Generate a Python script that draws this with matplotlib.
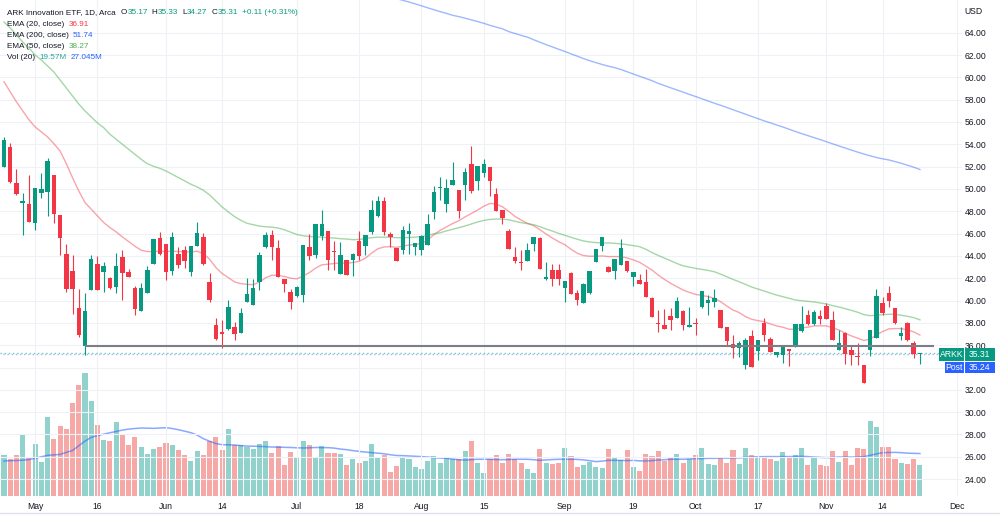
import matplotlib
matplotlib.use('Agg')
import matplotlib.pyplot as plt
import numpy as np
import pandas as pd
from matplotlib.patches import Rectangle
from matplotlib.lines import Line2D

# ---------------- data ----------------
opens = [52.0, 53.79, 50.57, 48.72, 48.63, 46.93, 49.67, 49.73, 51.22, 47.64,
         44.15, 42.66, 39.31, 35.94, 40.93, 43.25, 42.54, 42.06, 41.19, 43.91,
         42.6, 41.16, 39.10, 40.72, 43.28, 45.64, 45.07, 42.69, 44.15, 44.54,
         42.54, 44.9, 45.73, 41.70, 37.82, 37.19, 37.43, 37.67, 37.07, 39.91,
         39.64, 41.67, 44.79, 45.83, 44.73, 41.90, 40.77, 40.39, 40.54, 44.79,
         44.05, 45.74, 46.19, 44.43, 42.41, 43.60, 43.66, 45.30, 44.85, 46.13,
         47.62, 48.96, 45.98, 44.73, 44.55, 45.92, 44.79, 44.49, 45.0, 47.96,
         50.04, 48.64, 50.37, 49.89, 50.34, 52.27, 50.67, 51.47, 51.98, 49.54,
         48.11, 46.26, 43.94, 43.49, 43.58, 45.07, 45.61, 41.89, 42.75, 42.75,
         41.14, 42.45, 40.70, 39.77, 40.70, 43.43, 44.92, 43.05, 42.69, 43.2,
         43.56, 42.07, 41.86, 41.68, 40.2, 38.02, 37.82, 38.62, 38.41, 39.1,
         37.67, 38.02, 39.39, 39.75, 39.9, 39.15, 37.61, 36.09, 35.73, 34.18,
         36.83, 35.49, 38.02, 36.57, 35.08, 35.14, 35.67, 35.88, 37.28, 38.71,
         37.88, 38.62, 39.51, 38.26, 35.58, 37.07, 35.58, 35.05, 34.24, 35.58,
         36.63, 39.81, 40.7, 39.3, 36.83, 38.02, 36.18, 35.17]
highs = [54.66, 54.15, 51.82, 49.67, 51.25, 50.12, 51.40, 52.76, 51.25, 47.70,
         45.07, 44.06, 41.04, 40.66, 44.09, 43.99, 43.43, 42.10, 44.24, 44.54,
         42.80, 41.34, 41.55, 43.13, 45.49, 46.18, 45.10, 46.12, 44.84, 44.90,
         44.90, 47.07, 46.03, 42.45, 38.48, 38.27, 40.06, 38.06, 39.31, 42.00,
         41.96, 44.35, 46.13, 46.28, 45.39, 41.95, 41.07, 41.30, 45.00, 45.98,
         46.88, 48.13, 46.20, 45.30, 45.24, 43.62, 44.26, 46.19, 45.85, 49.05,
         49.35, 49.32, 46.13, 44.75, 46.64, 46.93, 45.20, 45.83, 47.77, 50.28,
         51.11, 50.87, 52.42, 49.90, 51.92, 53.85, 52.07, 52.66, 52.00, 50.04,
         48.12, 46.41, 44.83, 44.57, 45.13, 45.73, 45.73, 43.43, 43.23, 43.23,
         41.71, 42.60, 40.90, 41.56, 42.69, 44.63, 45.73, 43.07, 43.73, 45.52,
         43.58, 42.52, 42.39, 42.79, 40.35, 39.15, 39.21, 39.30, 40.35, 39.12,
         39.45, 38.47, 40.85, 40.49, 41.03, 39.17, 37.63, 36.92, 36.33, 36.63,
         37.37, 36.48, 38.41, 36.69, 35.38, 35.94, 35.69, 37.88, 39.51, 39.15,
         39.15, 39.15, 39.75, 39.07, 37.37, 37.22, 36.03, 36.18, 34.26, 37.37,
         41.00, 40.35, 41.30, 39.32, 37.67, 38.04, 36.33, 35.33]
lows = [51.95, 50.57, 49.46, 45.88, 47.00, 46.33, 49.22, 47.61, 46.99, 44.09,
        40.80, 38.81, 36.72, 35.13, 40.90, 40.90, 40.80, 41.05, 40.72, 40.06,
        42.10, 38.72, 39.05, 40.70, 43.25, 44.10, 41.85, 42.30, 42.90, 42.90,
        42.24, 44.85, 43.20, 39.90, 36.48, 35.73, 37.40, 36.48, 37.05, 39.90,
        39.60, 40.92, 44.75, 43.66, 42.10, 40.77, 39.20, 40.30, 39.88, 43.60,
        43.84, 45.39, 42.71, 42.77, 42.40, 42.30, 42.20, 43.66, 44.05, 45.98,
        47.47, 45.83, 44.79, 43.51, 44.14, 44.20, 44.05, 44.05, 44.98, 47.30,
        49.00, 47.96, 50.35, 47.39, 49.03, 49.68, 49.92, 51.11, 49.39, 47.99,
        46.86, 44.63, 43.35, 42.75, 43.56, 44.48, 42.84, 41.87, 41.26, 41.35,
        39.86, 40.55, 39.57, 39.75, 40.60, 43.41, 44.48, 42.54, 41.94, 43.20,
        42.60, 41.30, 41.44, 40.35, 38.56, 37.22, 37.43, 37.40, 38.41, 37.37,
        37.65, 36.92, 39.37, 38.70, 39.45, 37.52, 36.03, 34.84, 34.93, 33.86,
        34.04, 34.69, 36.33, 35.38, 34.90, 34.39, 34.10, 35.86, 37.22, 37.80,
        37.80, 37.90, 38.35, 36.48, 35.56, 34.33, 34.24, 34.18, 32.60, 34.99,
        36.61, 38.71, 39.39, 37.90, 36.48, 36.33, 34.84, 34.27]
closes = [54.39, 50.63, 49.52, 48.93, 47.07, 50.12, 49.97, 52.46, 47.73, 45.57,
          41.01, 41.01, 36.93, 39.07, 43.70, 40.96, 43.13, 41.10, 43.10, 42.45,
          42.15, 39.22, 41.10, 42.75, 45.49, 44.15, 42.54, 45.73, 43.19, 43.55,
          44.90, 46.09, 43.25, 40.06, 36.57, 37.00, 39.46, 37.01, 38.87, 40.60,
          41.16, 44.05, 45.83, 44.79, 42.11, 41.52, 39.88, 41.22, 45.00, 43.96,
          46.88, 46.88, 43.60, 44.32, 44.05, 42.32, 44.14, 43.96, 45.83, 48.15,
          48.96, 46.13, 45.68, 43.51, 46.34, 46.19, 45.18, 45.74, 46.88, 49.74,
          50.19, 50.04, 50.81, 47.99, 51.53, 49.83, 52.07, 52.21, 50.73, 47.99,
          47.39, 44.63, 43.58, 43.35, 44.54, 45.73, 42.84, 42.10, 41.95, 41.89,
          41.71, 40.55, 40.07, 41.44, 42.69, 44.63, 45.73, 42.54, 43.73, 44.68,
          42.67, 42.52, 41.44, 40.35, 38.56, 37.88, 37.43, 38.26, 39.99, 37.82,
          37.82, 37.88, 40.85, 40.05, 40.20, 37.52, 36.33, 35.73, 36.18, 36.48,
          34.04, 36.42, 36.92, 35.38, 35.35, 35.94, 35.44, 37.88, 37.91, 37.88,
          38.95, 38.35, 38.35, 36.48, 36.24, 35.23, 35.08, 34.90, 32.60, 37.37,
          40.41, 38.92, 39.99, 37.96, 37.13, 36.42, 35.23, 35.31]
volumes_m = [25.9, 23.4, 25.9, 38.6, 24.8, 33.1, 21.7, 50.5, 36.5, 44.6,
             42.9, 59.0, 70.7, 78.1, 60.7, 45.0, 35.7, 34.8, 47.1, 38.9,
             32.5, 37.4, 31.4, 26.8, 29.7, 31.0, 33.5, 32.3, 29.3, 26.1,
             22.3, 28.7, 25.9, 35.2, 37.4, 29.3, 42.5, 32.5, 32.5, 31.2,
             29.7, 33.1, 35.0, 27.2, 31.6, 19.9, 28.0, 24.4, 34.8, 32.3,
             24.4, 31.8, 27.4, 27.4, 27.0, 19.7, 23.8, 20.8, 22.3, 32.9,
             24.4, 26.1, 15.3, 19.1, 24.4, 23.4, 18.5, 17.4, 22.3, 25.5,
             21.2, 24.0, 23.4, 23.4, 28.7, 35.0, 20.8, 14.9, 23.8, 25.9,
             20.8, 26.5, 23.4, 20.8, 17.4, 14.9, 29.7, 21.2, 20.6, 21.2,
             30.8, 25.5, 18.5, 19.5, 21.7, 18.7, 18.0, 30.1, 24.4, 22.9,
             29.3, 18.6, 15.9, 26.5, 25.5, 28.7, 22.3, 24.4, 26.5, 21.0,
             23.4, 25.9, 30.8, 20.6, 19.7, 24.8, 21.0, 29.3, 20.2, 30.8,
             25.9, 24.4, 24.8, 23.8, 22.3, 28.0, 24.8, 25.9, 30.8, 19.7,
             24.4, 19.7, 18.9, 28.4, 21.9, 28.7, 19.7, 30.4, 29.7, 47.8,
             43.7, 31.4, 31.4, 23.8, 21.0, 20.4, 23.8, 19.57]
vol_ma_m = [22.3, 22.5, 22.6, 22.8, 23.2, 24.0, 25.0, 25.9, 26.2, 26.5,
            27.8, 29.0, 32.0, 35.0, 37.3, 38.5, 39.4, 40.3, 41.1, 42.0,
            42.6, 43.0, 43.3, 43.2, 43.1, 43.3, 43.5, 43.0, 42.2, 41.3,
            40.3, 38.8, 36.5, 34.9, 33.4, 32.7, 32.6, 32.5, 32.1, 31.8,
            31.7, 31.6, 31.4, 31.2, 31.1, 31.0, 30.9, 30.7, 30.6, 30.7,
            30.9, 30.8, 30.8, 30.5, 29.9, 29.5, 28.9, 28.4, 28.0, 27.6,
            27.3, 26.9, 26.3, 25.8, 25.7, 25.5, 25.3, 25.1, 24.8, 24.4,
            24.2, 24.0, 23.5, 23.1, 22.9, 23.1, 23.4, 23.4, 23.4, 23.2,
            23.1, 23.2, 23.4, 23.4, 23.4, 23.1, 22.7, 23.0, 23.2, 23.4,
            23.4, 23.4, 23.3, 23.0, 22.5, 21.9, 22.2, 22.7, 22.7, 22.7,
            22.5, 22.7, 22.4, 22.3, 22.5, 22.9, 23.1, 23.4, 23.4, 23.4,
            23.6, 23.8, 23.8, 24.0, 24.0, 24.2, 24.2, 24.2, 24.3, 24.6,
            24.8, 25.0, 25.1, 25.1, 25.1, 25.1, 25.1, 25.2, 25.3, 25.1,
            24.8, 24.6, 24.4, 24.5, 24.8, 24.8, 24.8, 24.8, 25.1, 25.9,
            26.8, 27.6, 27.7, 27.8, 27.6, 27.3, 27.2, 27.05]
ema20 = [59.6, 58.7, 57.8, 57.0, 56.2, 55.55, 55.1, 54.66, 54.06, 53.4,
         52.27, 51.0, 49.82, 48.78, 48.18, 47.58, 46.99, 46.54, 46.15, 45.70,
         45.28, 44.87, 44.51, 44.39, 44.39, 44.42, 44.39, 44.42, 44.39, 44.36,
         44.36, 44.42, 44.2, 43.7, 42.96, 42.42, 42.06, 41.67, 41.52, 41.45,
         41.42, 41.65, 42.04, 42.28, 42.25, 42.16, 42.0, 41.94, 42.2, 42.5,
         42.9, 43.2, 43.26, 43.31, 43.37, 43.34, 43.41, 43.52, 43.8, 44.25,
         44.64, 44.8, 44.84, 44.76, 44.88, 44.98, 45.02, 45.12, 45.43, 45.9,
         46.29, 46.6, 46.9, 47.15, 47.5, 47.8, 48.1, 48.45, 48.7, 48.65,
         48.4, 47.99, 47.54, 47.21, 46.92, 46.71, 46.35, 45.96, 45.6, 45.28,
         45.01, 44.6, 44.24, 44.03, 43.97, 43.97, 44.0, 43.94, 43.94, 43.94,
         43.82, 43.64, 43.43, 43.08, 42.73, 42.28, 41.89, 41.54, 41.24, 40.94,
         40.73, 40.55, 40.46, 40.35, 40.2, 39.9, 39.51, 39.15, 38.92, 38.56,
         38.32, 38.2, 38.11, 37.9, 37.73, 37.61, 37.43, 37.43, 37.55, 37.61,
         37.73, 37.73, 37.73, 37.55, 37.37, 37.07, 36.83, 36.63, 36.42, 36.54,
         36.92, 37.22, 37.46, 37.49, 37.49, 37.37, 37.19, 36.91]
ema50 = [64.96, 64.42, 63.79, 63.17, 62.63, 62.0, 61.55, 61.02, 60.48, 59.76,
         59.05, 58.33, 57.61, 56.99, 56.45, 55.91, 55.49, 54.9, 54.45, 54.0,
         53.55, 53.1, 52.66, 52.27, 52.03, 51.85, 51.61, 51.31, 51.01, 50.72,
         50.42, 50.18, 49.88, 49.46, 48.93, 48.39, 47.94, 47.52, 47.19, 46.92,
         46.79, 46.67, 46.61, 46.58, 46.49, 46.34, 46.13, 45.92, 45.8, 45.74,
         45.71, 45.68, 45.63, 45.6, 45.54, 45.51, 45.45, 45.48, 45.54, 45.63,
         45.68, 45.68, 45.68, 45.63, 45.63, 45.65, 45.68, 45.74, 45.83, 45.98,
         46.07, 46.24, 46.38, 46.53, 46.68, 46.86, 47.04, 47.18, 47.27, 47.3,
         47.3, 47.24, 47.1, 46.98, 46.89, 46.8, 46.62, 46.41, 46.23, 46.02,
         45.85, 45.67, 45.49, 45.34, 45.25, 45.19, 45.16, 45.16, 45.13, 45.07,
         45.01, 44.92, 44.83, 44.6, 44.3, 44.04, 43.8, 43.56, 43.32, 43.11,
         42.99, 42.88, 42.79, 42.7, 42.58, 42.37, 42.13, 41.89, 41.68, 41.45,
         41.21, 41.03, 40.85, 40.67, 40.49, 40.35, 40.2, 40.05, 39.99, 39.93,
         39.87, 39.78, 39.69, 39.54, 39.42, 39.27, 39.12, 38.95, 38.74, 38.65,
         38.68, 38.74, 38.77, 38.77, 38.68, 38.59, 38.47, 38.27]
# EMA 200 is only inside the visible price range for the last 86 sessions
ema200 = [67.2, 67.05, 66.9, 66.75, 66.58, 66.41, 66.23, 66.06,
          65.89, 65.73, 65.56, 65.44, 65.3, 65.15, 65.0, 64.84, 64.66, 64.5,
          64.35, 64.1, 63.93, 63.76, 63.6, 63.37, 63.15, 62.93, 62.73, 62.52,
          62.32, 62.1, 61.9, 61.68, 61.49, 61.32, 61.15, 61.0, 60.87, 60.7,
          60.5, 60.3, 60.1, 59.9, 59.7, 59.46, 59.26, 59.06, 58.87, 58.67,
          58.47, 58.28, 58.08, 57.88, 57.68, 57.5, 57.3, 57.1, 56.9, 56.7,
          56.5, 56.3, 56.1, 55.92, 55.73, 55.55, 55.35, 55.15, 54.96, 54.78,
          54.6, 54.42, 54.23, 54.04, 53.85, 53.67, 53.48, 53.3, 53.13, 52.97,
          52.82, 52.7, 52.6, 52.45, 52.3, 52.12, 51.95, 51.74]

first_session = '2022-04-25'
axis_end = '2022-12-01'
market_holidays = ['2022-05-30', '2022-06-20', '2022-07-04', '2022-09-05', '2022-11-24']
tick_dates = ['2022-05-02', '2022-05-16', '2022-06-01', '2022-06-14', '2022-07-01',
              '2022-07-18', '2022-08-01', '2022-08-15', '2022-09-01', '2022-09-19',
              '2022-10-03', '2022-10-17', '2022-11-01', '2022-11-14', '2022-12-01']
tick_labels = ['May', '16', 'Jun', '14', 'Jul', '18', 'Aug', '15', 'Sep', '19',
               'Oct', '17', 'Nov', '14', 'Dec']
price_ticks = list(range(24, 65, 2))
hidden_price_labels = [34]   # covered by the last-price tags in the reference
level_line = 35.94       # horizontal drawing from the May 12 session
level_start = '2022-05-12'
last_price = 35.31
post_price = 35.24

# ---------------- figure ----------------
W, H = 1000, 518
DARK = '#131722'
UP, DOWN = '#089981', '#f23645'
plt.rcParams['font.family'] = ['Liberation Sans', 'DejaVu Sans']

fig = plt.figure(figsize=(10, 5.18), dpi=100)
fig.patch.set_facecolor('white')

def fx(px):
    return px / W

def fy(py):
    return 1 - py / H

cal = pd.bdate_range(first_session, axis_end, freq='C', holidays=market_holidays)
n = len(closes)
pos = np.arange(n)
tick_pos = [cal.get_loc(pd.Timestamp(d)) for d in tick_dates]

plot_bottom_px = 496
ax_rect = [0, fy(plot_bottom_px), 0.962, plot_bottom_px / H]
ax = fig.add_axes(ax_rect)
axv = ax.twinx()
ax.set_zorder(axv.get_zorder() + 1)
ax.patch.set_visible(False)

xlim = (-0.642, 153.75)
ax.set_xlim(*xlim)
axv.set_xlim(*xlim)
ax.set_ylim(22.486, 66.930)
axv.set_ylim(0, plot_bottom_px * 0.637)

o = np.array(opens); h = np.array(highs); l = np.array(lows); c = np.array(closes)
up = c >= o
col = np.where(up, UP, DOWN)

# volume pane (overlay)
vcol = np.where(up, '#26a69a', '#ef5350')
axv.bar(pos, volumes_m, width=0.82, color=vcol, alpha=0.5, linewidth=0)
axv.plot(pos, vol_ma_m, color='#2962ff', alpha=0.55, lw=1.1)
axv.set_yticks([])
for s in axv.spines.values():
    s.set_visible(False)

# grid
ax.set_yticks(price_ticks)
ax.set_yticklabels(['' if p in hidden_price_labels else f'{p:.2f}' for p in price_ticks])
ax.set_xticks(tick_pos)
ax.set_xticklabels(tick_labels)
ax.grid(True, color='#eef1f6', lw=0.8)
ax.set_axisbelow(True)
ax.yaxis.tick_right()
ax.tick_params(axis='y', length=0, pad=1.8, labelsize=6.2, labelcolor=DARK)
ax.tick_params(axis='x', length=0, pad=4, labelsize=6.2, labelcolor=DARK)
for s in ax.spines.values():
    s.set_visible(False)

# EMAs
ax.plot(pos, ema20, color='#f23645', alpha=0.45, lw=1.0, zorder=4)
ax.plot(pos, ema50, color='#4caf50', alpha=0.5, lw=1.0, zorder=4)
ax.plot(pos[n - len(ema200):], ema200, color='#2962ff', alpha=0.45, lw=1.0, zorder=4)

# candles
body_lo = np.minimum(o, c)
body_h = np.maximum(np.abs(c - o), 0.07)
ax.vlines(pos, l, h, colors=col, lw=0.8, zorder=5)
ax.bar(pos, body_h, bottom=body_lo, width=0.72, color=col, linewidth=0, zorder=6)

# drawings / price lines
ax.hlines(level_line, cal.get_loc(pd.Timestamp(level_start)), n + 1.2,
          color='#7b7e87', lw=1.5, zorder=7)
ax.axhline(last_price, color=UP, lw=1.0, ls=(0, (1, 2)), alpha=0.55, zorder=3)
ax.axhline(post_price, color='#2962ff', lw=1.0, ls=(1, (1, 2)), alpha=0.45, zorder=3)

# price scale header and labels
fig.text(fx(964), fy(12), 'USD', fontsize=6.2, color=DARK, va='center', ha='left')

def tag(x0, x1, y0, y1, color, left_txt, right_txt, split):
    fig.add_artist(Rectangle((fx(x0), fy(y1)), (x1 - x0) / W, (y1 - y0) / H,
                             transform=fig.transFigure, color=color, zorder=10, lw=0))
    fig.add_artist(Line2D([fx(split)] * 2, [fy(y0), fy(y1)], color='white', lw=0.8,
                          transform=fig.transFigure, zorder=11))
    ym = (y0 + y1) / 2
    fig.text(fx((x0 + split) / 2), fy(ym), left_txt, color='white', fontsize=6.2,
             ha='center', va='center', zorder=12)
    fig.text(fx((split + x1) / 2), fy(ym), right_txt, color='white', fontsize=6.2,
             ha='center', va='center', zorder=12)

tag(939, 995, 348, 361, UP, 'ARKK', f'{last_price:.2f}', 963.5)
tag(945, 995, 361.5, 373, '#2962ff', 'Post', f'{post_price:.2f}', 963.5)

# bottom border of the time scale
fig.add_artist(Line2D([0, 1], [fy(513), fy(513)], color='#e0e3eb', lw=1,
                      transform=fig.transFigure))

# legend (top-left)
renderer = fig.canvas.get_renderer()

def seq(x, y, parts, size=5.9):
    for s, colr, gap in parts:
        t = fig.text(fx(x), fy(y), s, color=colr, fontsize=size, va='center', ha='left')
        x += t.get_window_extent(renderer).width + gap

seq(7, 13, [('ARK Innovation ETF, 1D, Arca', DARK, 5),
            ('O', DARK, 0.3), ('35.17', UP, 4),
            ('H', DARK, 0.3), ('35.33', UP, 4),
            ('L', DARK, 0.3), ('34.27', UP, 4),
            ('C', DARK, 0.3), ('35.31', UP, 4),
            ('+0.11 (+0.31%)', UP, 0)])
seq(7, 24.5, [('EMA (20, close)', DARK, 4), ('36.91', '#f23645', 0)])
seq(7, 35.5, [('EMA (200, close)', DARK, 4), ('51.74', '#2962ff', 0)])
seq(7, 46.5, [('EMA (50, close)', DARK, 4), ('38.27', '#4caf50', 0)])
seq(7, 57.5, [('Vol (20)', DARK, 4), ('19.57M', '#26a69a', 4), ('27.045M', '#2962ff', 0)])

fig.savefig('out.png', dpi=100, facecolor='white')
